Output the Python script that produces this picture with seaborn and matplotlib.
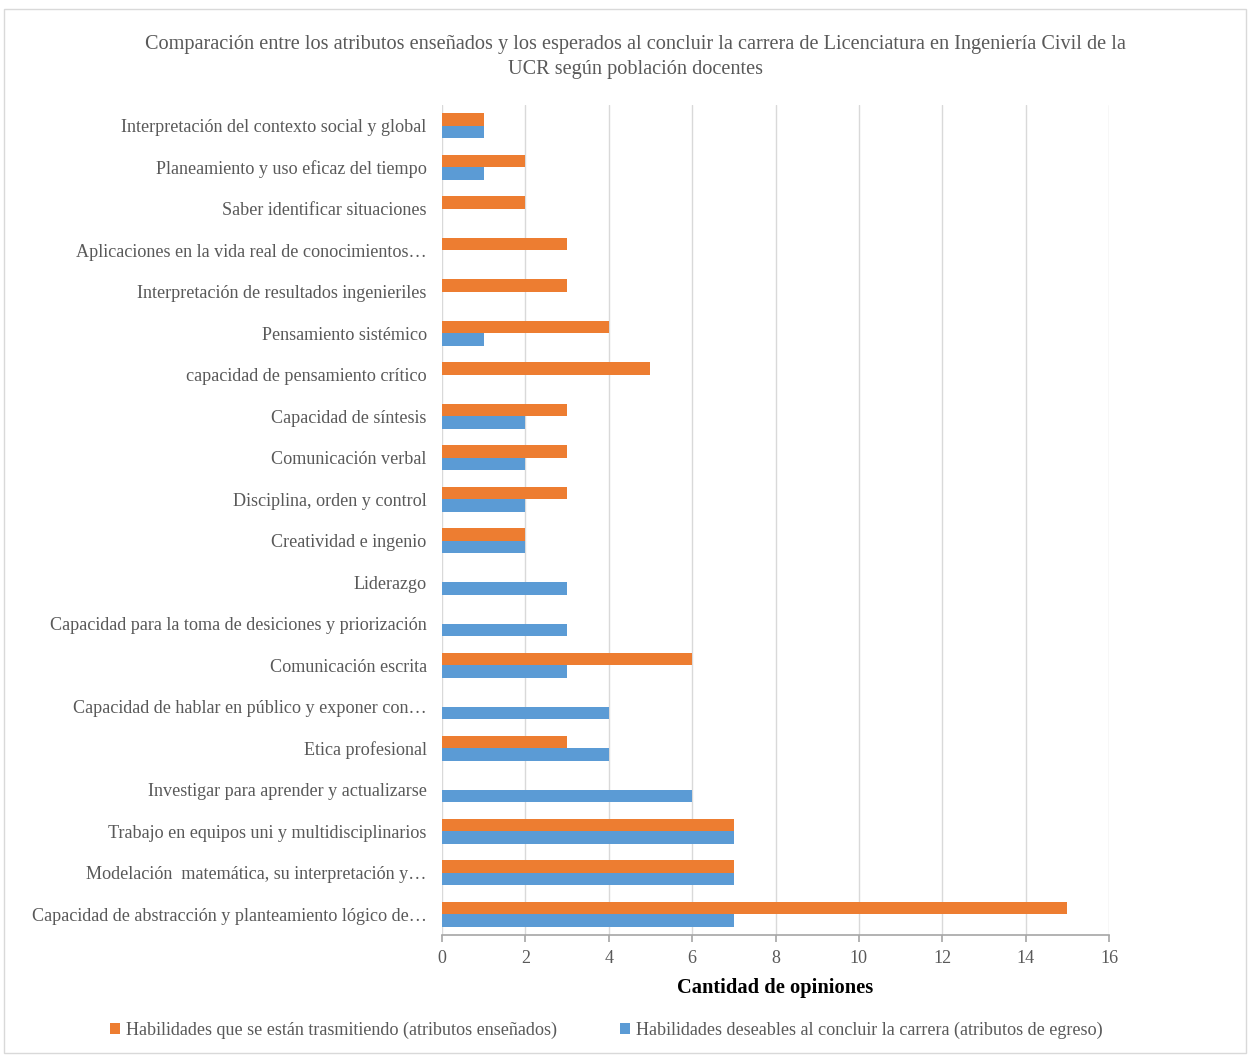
import matplotlib
matplotlib.use("Agg")
import matplotlib.pyplot as plt
import seaborn as sns
import pandas as pd
from matplotlib.patches import Rectangle

categories = [
    "Interpretación del contexto social y global",
    "Planeamiento y uso eficaz del tiempo",
    "Saber identificar situaciones",
    "Aplicaciones en la vida real de conocimientos…",
    "Interpretación de resultados ingenieriles",
    "Pensamiento sistémico",
    "capacidad de pensamiento crítico",
    "Capacidad de síntesis",
    "Comunicación verbal",
    "Disciplina, orden y control",
    "Creatividad e ingenio",
    "Liderazgo",
    "Capacidad para la toma de desiciones y priorización",
    "Comunicación escrita",
    "Capacidad de hablar en público y exponer con…",
    "Etica profesional",
    "Investigar para aprender y actualizarse",
    "Trabajo en equipos uni y multidisciplinarios",
    "Modelación  matemática, su interpretación y…",
    "Capacidad de abstracción y planteamiento lógico de…",
]
ensenados = [1, 2, 2, 3, 3, 4, 5, 3, 3, 3, 2, 0, 0, 6, 0, 3, 0, 7, 7, 15]
egreso = [1, 1, 0, 0, 0, 1, 0, 2, 2, 2, 2, 3, 3, 3, 4, 4, 6, 7, 7, 7]
series_names = [
    "Habilidades que se están trasmitiendo (atributos enseñados)",
    "Habilidades deseables al concluir la carrera (atributos de egreso)",
]
colors = ["#ED7D31", "#5B9BD5"]
title = ("Comparación entre los atributos enseñados y los esperados al concluir la carrera de Licenciatura en Ingeniería Civil de la\n"
         "UCR según población docentes")
xlabel = "Cantidad de opiniones"

df = pd.DataFrame({
    "cat": categories * 2,
    "val": ensenados + egreso,
    "serie": [series_names[0]] * len(categories) + [series_names[1]] * len(categories),
})

sns.set_theme(style="white")
plt.rcParams["font.family"] = ["Liberation Serif", "DejaVu Serif"]
txt = "#595959"

fig = plt.figure(figsize=(12.5, 10.55), dpi=100)
ax = fig.add_axes([0.3536, 0.1137, 0.5336, 0.7868])

sns.barplot(data=df, y="cat", x="val", hue="serie", hue_order=series_names,
            order=categories, palette=colors, width=0.6, orient="h",
            saturation=1, linewidth=0, ax=ax, legend=True)

ax.set_xlim(0, 16)
ax.set_xticks(range(0, 17, 2))
ax.grid(axis="x", color="#D9D9D9", linewidth=1)
ax.set_axisbelow(True)
for s in ["top", "right", "left"]:
    ax.spines[s].set_visible(False)
ax.spines["bottom"].set_color("#A6A6A6")
ax.spines["bottom"].set_linewidth(1.2)
ax.tick_params(axis="x", colors="#A6A6A6", length=5, width=1.2, direction="out",
               labelcolor=txt, labelsize=13, pad=6, bottom=True)
ax.tick_params(axis="y", length=0, labelcolor=txt, labelsize=13.1, pad=11)
ax.set_ylabel("")
ax.set_xlabel(xlabel, fontsize=14.8, fontweight="bold", color="black", labelpad=8)

handles, labels = ax.get_legend_handles_labels()
ax.get_legend().remove()
fig.legend(handles, labels, loc="center", bbox_to_anchor=(0.485, 0.023), ncol=2,
           frameon=False, fontsize=13.1, labelcolor=txt, handlelength=0.55,
           handleheight=0.55, handletextpad=0.3, columnspacing=3.5)

fig.text(0.508, 0.946, title, ha="center", va="center", fontsize=14.6, color=txt,
         linespacing=1.4)

fig.patches.append(Rectangle((0.003, 0.002), 0.994, 0.989, transform=fig.transFigure,
                             fill=False, edgecolor="#D9D9D9", linewidth=1))

fig.savefig("out.png", dpi=100, facecolor="white")
